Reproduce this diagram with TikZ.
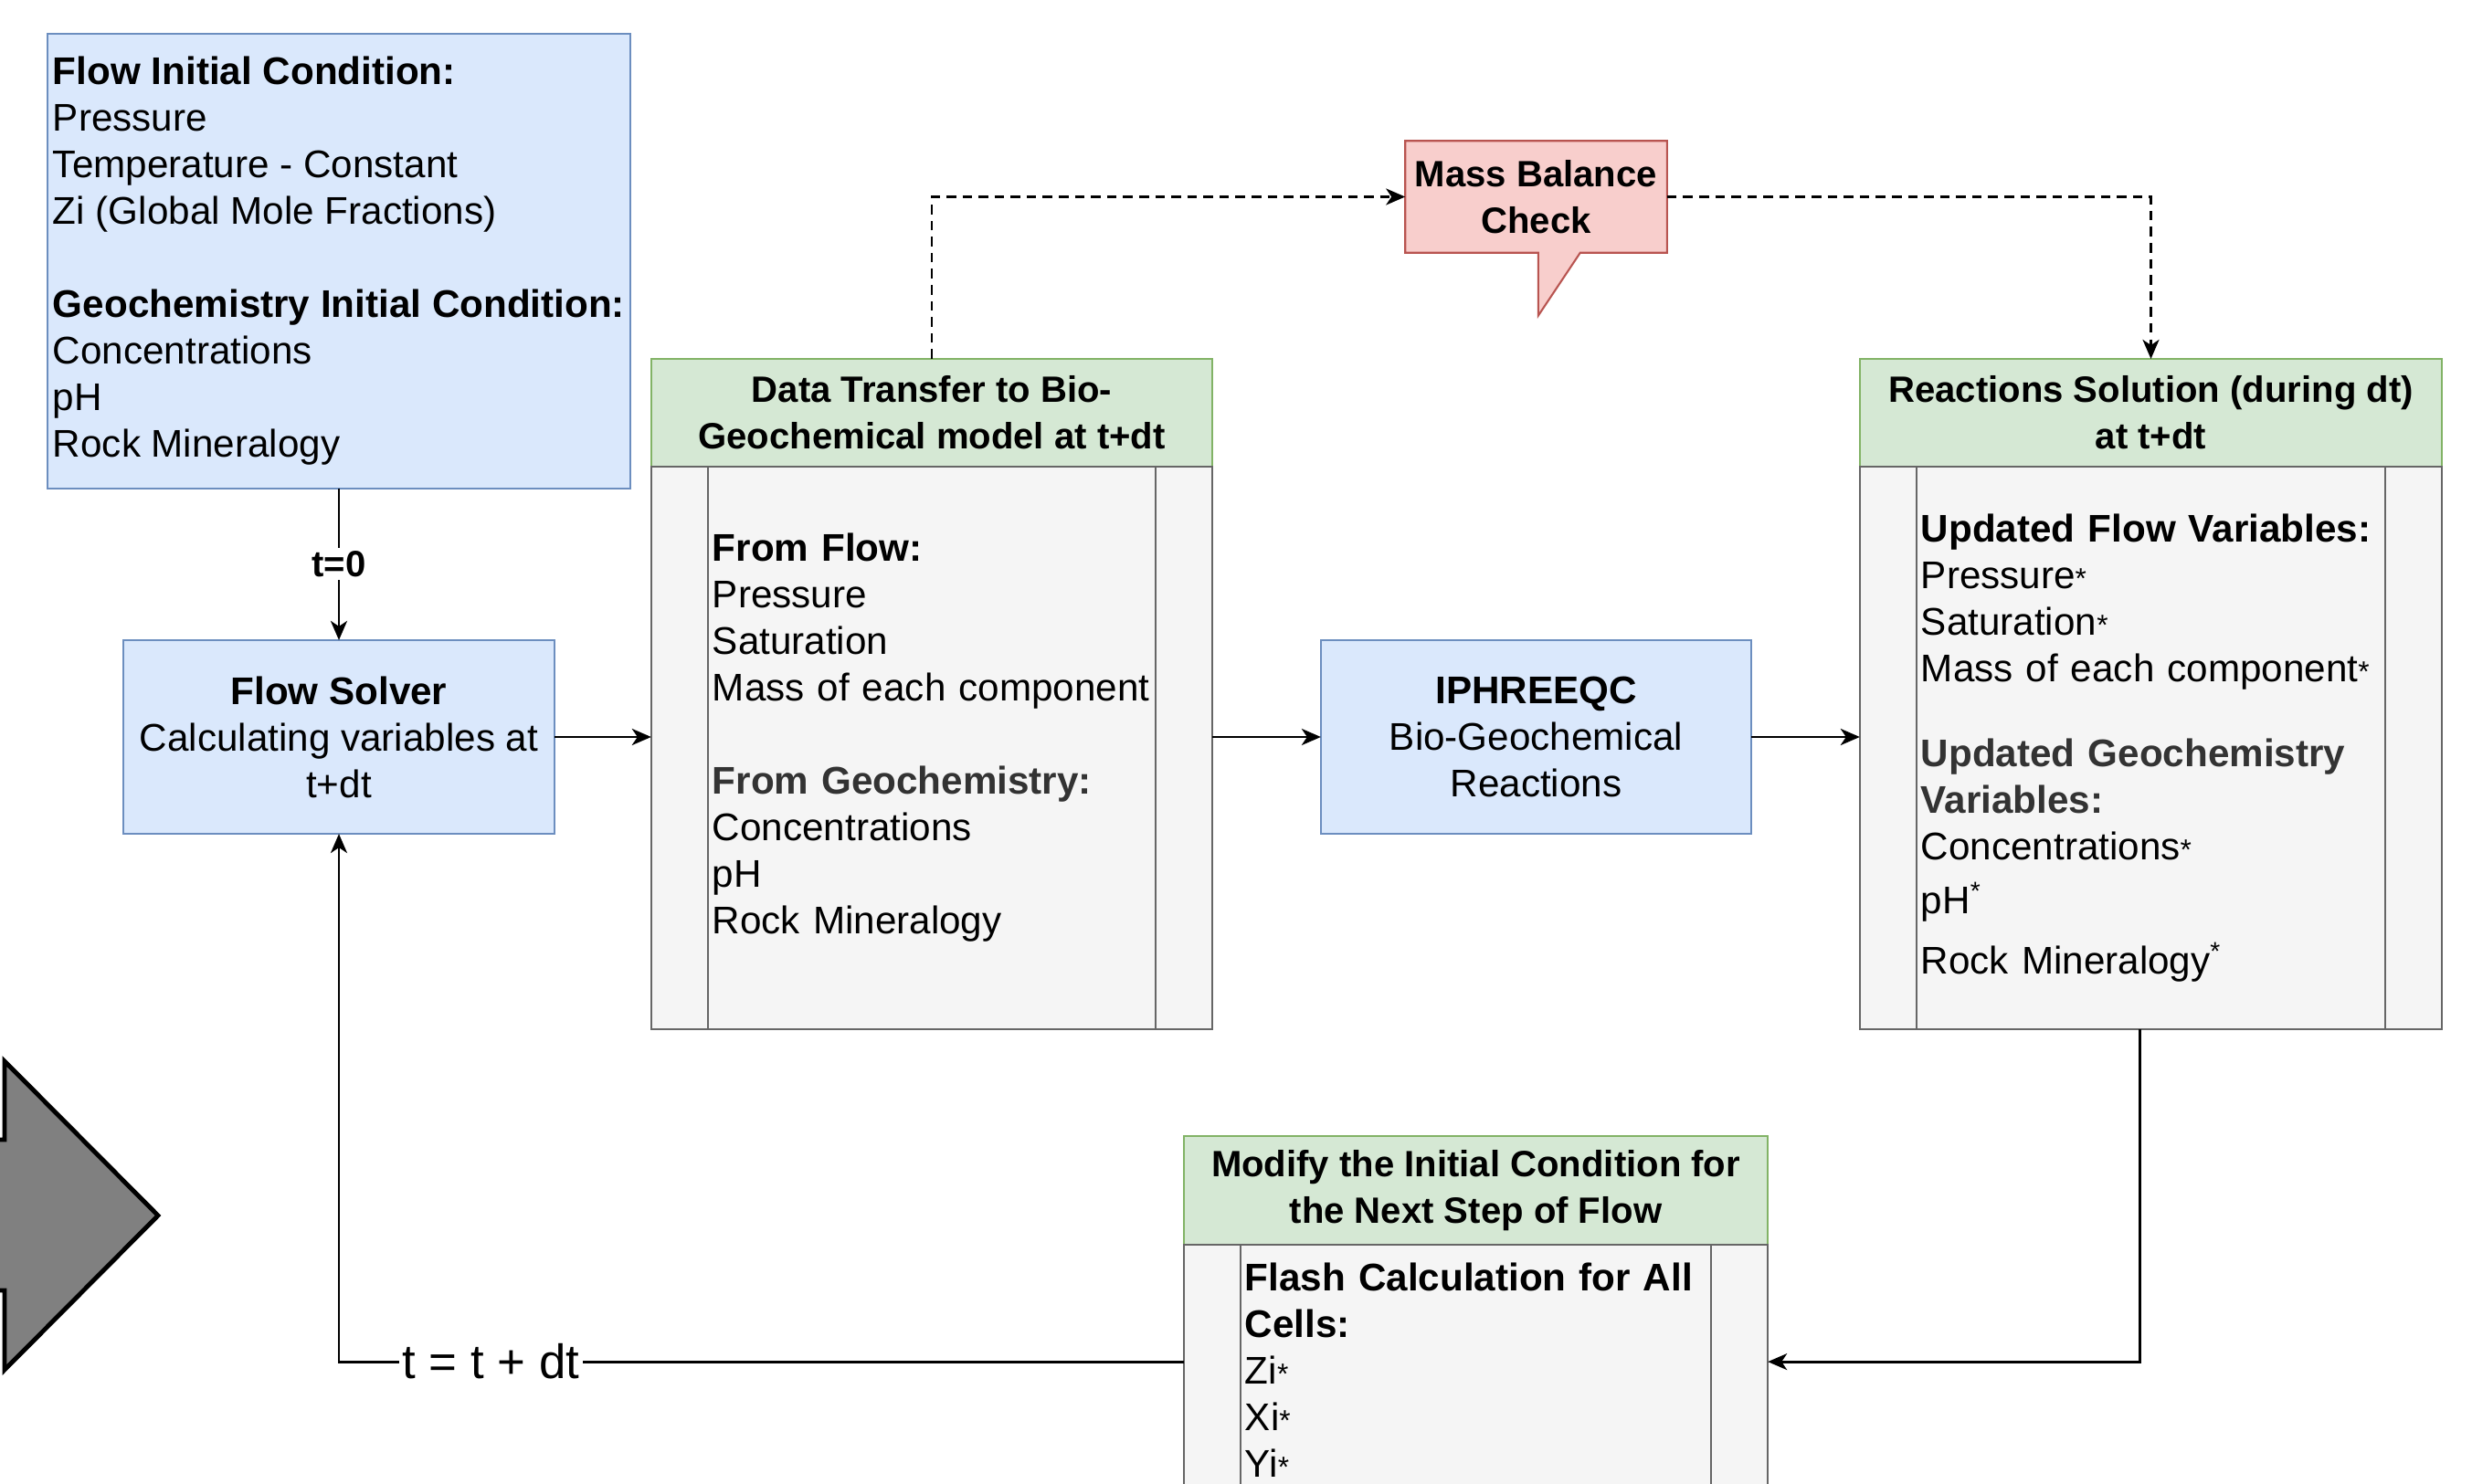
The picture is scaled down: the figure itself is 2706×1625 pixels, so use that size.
\documentclass[tikz,border=0pt]{standalone}
\usepackage{fontspec}
\setmainfont{Liberation Sans}
\usetikzlibrary{positioning,arrows.meta,backgrounds}

\definecolor{bluefill}{HTML}{DAE8FC}
\definecolor{blueline}{HTML}{6C8EBF}
\definecolor{greenfill}{HTML}{D5E8D4}
\definecolor{greenline}{HTML}{82B366}
\definecolor{redfill}{HTML}{F8CECC}
\definecolor{redline}{HTML}{B85450}
\definecolor{grayfill}{HTML}{F5F5F5}
\definecolor{grayline}{HTML}{666666}
\definecolor{darktext}{HTML}{333333}
\definecolor{arrowgray}{HTML}{808080}

\newcommand{\txtfont}{\fontsize{12}{14.5}\selectfont}
\newcommand{\headfont}{\fontsize{11.4}{14.5}\selectfont\bfseries}
\newcommand{\smstar}{{\fontsize{9}{9}\selectfont *}}

\tikzset{
  bluebox/.style={draw=blueline, fill=bluefill, line width=0.6pt, outer sep=0pt, font=\txtfont},
  lanehead/.style={draw=greenline, fill=greenfill, line width=0.6pt, outer sep=0pt, align=center, font=\headfont, minimum height=1.18cm},
  lanebody/.style={draw=grayline, fill=grayfill, line width=0.6pt, outer sep=0pt, align=left, font=\txtfont, inner xsep=0.67cm},
  link/.style={-{Stealth[length=0.21cm,width=0.18cm,inset=0.06cm]}, line width=0.8pt},
  linklabel/.style={fill=white, inner sep=1pt}
}

\begin{document}
\begin{tikzpicture}[x=0.01cm, y=-0.01cm, node distance=0pt]
  \useasboundingbox (0,0) rectangle (2706,1625);
  \clip (0,0) rectangle (2706,1625);

  % big arrow on the left edge
  \draw[fill=arrowgray, line width=1.4pt] (-100,1248) -- (5,1248) -- (5,1162) -- (173,1331) -- (5,1500) -- (5,1413) -- (-100,1413) -- cycle;

  % initial state and flow solver
  \node (IC) [bluebox, align=left, inner xsep=0.05cm, minimum width=6.38cm, minimum height=4.97cm] at (371,286)
    {\textbf{Flow Initial Condition:}\\Pressure\\Temperature - Constant\\Zi (Global Mole Fractions)\\[14.5pt]
     \textbf{Geochemistry Initial Condition:}\\Concentrations\\pH\\Rock Mineralogy};
  \node (FS) [bluebox, align=center, minimum width=4.72cm, minimum height=2.12cm] at (371,807)
    {\textbf{Flow Solver}\\Calculating variables at\\t+dt};

  % data transfer lane
  \node (DTh) [lanehead, minimum width=6.14cm] at (1020,452) {Data Transfer to Bio-\\Geochemical model at t+dt};
  \node (DT) [lanebody, below=of DTh, minimum width=6.14cm, minimum height=6.16cm, text width=4.80cm]
    {\textbf{From Flow:}\\Pressure\\Saturation\\Mass of each component\\[14.5pt]
     {\color{darktext}\textbf{From Geochemistry:}}\\Concentrations\\pH\\Rock Mineralogy\rule[-9.3pt]{0pt}{0pt}};

  % coupling
  \node (IP) [bluebox, align=center, minimum width=4.71cm, minimum height=2.12cm] at (1681.5,807)
    {\textbf{IPHREEQC}\\Bio-Geochemical\\Reactions};
  \node (MB) [font=\headfont, align=center, minimum width=2.85cm, minimum height=1.21cm, inner sep=0pt] at (1681.5,215.5)
    {Mass Balance\\Check};
  \begin{scope}[on background layer]
    \draw[draw=redline, fill=redfill, line width=0.6pt] (MB.north west) -- (MB.north east) -- (MB.south east)
      -- ++(-95,0) -- ++(-46,69) -- ++(0,-69) -- (MB.south west) -- cycle;
  \end{scope}

  % reactions lane
  \node (RSh) [lanehead, minimum width=6.37cm] at (2354.5,452) {Reactions Solution (during dt)\\at t+dt};
  \node (RS) [lanebody, below=of RSh, minimum width=6.37cm, minimum height=6.16cm, text width=5.03cm]
    {\textbf{Updated Flow Variables:}\\Pressure\smstar\\Saturation\smstar\\Mass of each component\smstar\\[12pt]
     {\color{darktext}\textbf{Updated Geochemistry}}\\{\color{darktext}\textbf{Variables:}}\\Concentrations\smstar\\[2.2pt]
     pH\textsuperscript{*}\\[4.2pt]Rock Mineralogy\textsuperscript{*}};

  % next step lane
  \node (MDh) [lanehead, minimum width=6.39cm, minimum height=1.19cm] at (1615.5,1303.5)
    {Modify the Initial Condition for\\the Next Step of Flow};
  \node (MD) [lanebody, below=of MDh, minimum width=6.39cm, minimum height=2.74cm, text width=5.05cm]
    {\textbf{Flash Calculation for All}\\\textbf{Cells:}\\Zi\smstar\\Xi\smstar\\Yi\smstar};

  \foreach \lane in {DT,RS,MD}{
    \draw[grayline, line width=0.6pt] ([xshift=0.62cm]\lane.north west) -- ([xshift=0.62cm]\lane.south west)
      ([xshift=-0.62cm]\lane.north east) -- ([xshift=-0.62cm]\lane.south east);
  }

  % connectors
  \draw[link] (IC) -- node[linklabel, font=\headfont] {t=0} (FS);
  \draw[link] (FS.east) -- (FS.east -| DT.west);
  \draw[link] (DT.east |- IP.west) -- (IP.west);
  \draw[link] (IP.east) -- (IP.east -| RS.west);
  \draw[link] ([xshift=-0.12cm]RS.south) |- ([yshift=0.09cm]MD.east);
  \draw[link] ([yshift=0.09cm]MD.west) -| node[linklabel, pos=0.41, font=\fontsize{15}{18}\selectfont] {t = t + dt} (FS.south);
  \draw[link, dash pattern=on 3pt off 2pt] (DTh.north) |- (MB.west);
  \draw[link, dash pattern=on 3pt off 2pt] (MB.east) -| (RSh.north);
\end{tikzpicture}
\end{document}
